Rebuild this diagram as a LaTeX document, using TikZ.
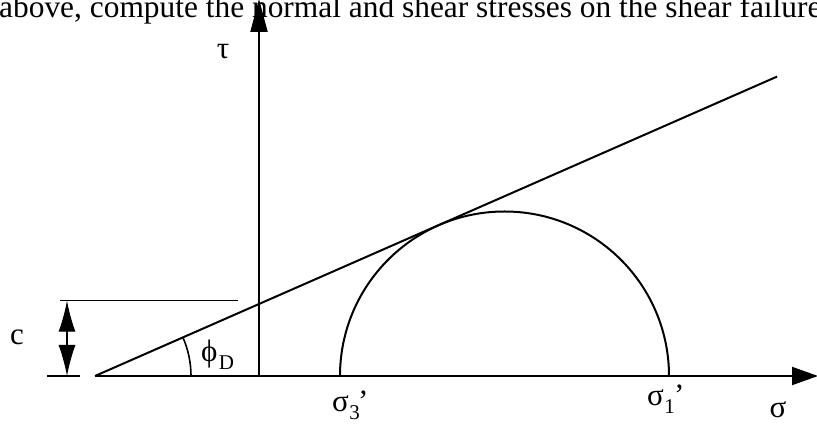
\documentclass[tikz,border=0pt]{standalone}
\usepackage{fontspec}
\setmainfont{Liberation Serif}
\usetikzlibrary{arrows.meta, calc}

\begin{document}
\begin{tikzpicture}[
    x=1pt, y=1pt,
    axis/.style={line width=2pt},
    thinline/.style={line width=1.1pt},
    mainline/.style={line width=2pt},
    dimarrow/.style={line width=1.1pt, {Latex[length=31pt, width=17pt]}-{Latex[length=31pt, width=17pt]}},
    lbl/.style={font=\fontsize{31}{36}\selectfont, inner sep=0pt},
    sub/.style={font=\fontsize{21}{25}\selectfont, inner sep=0pt},
]
\useasboundingbox (0,0) rectangle (817,425);
\clip (0,0) rectangle (817,425);

%% Cut-off text line at the top
\node[font=\fontsize{31.4}{37}\selectfont, inner sep=0pt, anchor=base west] (head) at (-1,407)
    {above, compute the normal and shear stresses on the shear failure};

%% Points
\coordinate (env) at (95,49);
\coordinate (org) at (259,49);
\coordinate (s3) at (340,49);
\coordinate (s1) at (669,49);
\coordinate (envend) at ($(env)+(23.7:745)$);

%% Axes
\draw[axis, -{Triangle[length=26pt, width=18pt]}] (env) -- (818,49) coordinate (xend);
\draw[axis, -{Triangle[length=33pt, width=17pt]}] (org) -- (259,426) coordinate (yend);

%% Failure envelope and Mohr circle
\draw[mainline] (env) -- (envend);
\draw[mainline] (s1) arc[start angle=0, end angle=180, radius=164.5];

%% Angle of friction
\draw[line width=1.6pt] ($(env)+(96,0)$) arc[start angle=0, end angle=23.7, radius=96];
\node[lbl, anchor=base west] (phi) at (201,63) {ϕ};
\node[sub, anchor=base west] (phisub) at (phi.base east) [xshift=1pt, yshift=-8pt] {D};

%% Cohesion intercept
\coordinate (ctop) at (67,124.3);
\coordinate (cbot) at (67,49);
\draw[thinline] (60,124.3) -- (238,124.3);
\draw[thinline] (47,49) -- (80,49);
\draw[dimarrow] (ctop) -- (cbot);
\node[lbl] (c) at (17,88) {c};

%% Axis and stress labels
\node[lbl] (tau) at (223,373) {τ};
\node[lbl, anchor=base west] (sig3) at (332,13) {σ};
\node[sub, anchor=base west] (sig3sub) at (sig3.base east) [yshift=-8pt] {3};
\node[lbl, anchor=base west] (sig3p) at (sig3sub.base east) [xshift=-2pt, yshift=8pt] {’};
\node[lbl, anchor=base west] (sig1) at (647,19) {σ};
\node[sub, anchor=base west] (sig1sub) at (sig1.base east) [yshift=-8pt] {1};
\node[lbl, anchor=base west] (sig1p) at (sig1sub.base east) [xshift=-1pt, yshift=8pt] {’};
\node[lbl] (sig) at (778,15) {σ};
\end{tikzpicture}
\end{document}
